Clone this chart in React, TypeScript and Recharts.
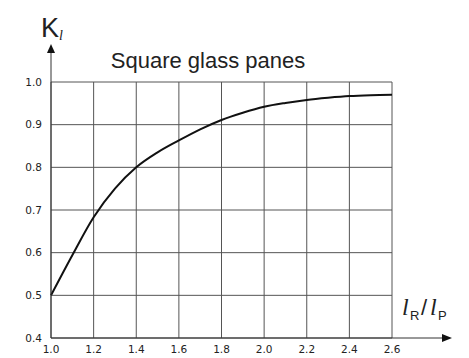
import { LineChart, Line, XAxis, YAxis, CartesianGrid } from 'recharts';

// pane side ratio lR / lP and the reduction factor K_l
const ratio = [1.0, 1.1, 1.2, 1.3, 1.4, 1.5, 1.6, 1.7, 1.8, 1.9, 2.0, 2.1, 2.2, 2.3, 2.4, 2.5, 2.6];
const kl = [0.5, 0.594, 0.683, 0.75, 0.8, 0.835, 0.863, 0.889, 0.911, 0.928, 0.942, 0.951, 0.958, 0.963, 0.967, 0.969, 0.97];

const xTicks = [1.0, 1.2, 1.4, 1.6, 1.8, 2.0, 2.2, 2.4, 2.6];
const yTicks = [0.4, 0.5, 0.6, 0.7, 0.8, 0.9, 1.0];

const data = ratio.map((r, i) => ({ r, k: kl[i] }));

const W = 469;
const H = 358;
const tickFont = { fontFamily: 'DejaVu Sans', fontSize: 10.5, fill: '#222' };

export default function App() {
  return (
    <div style={{ position: 'absolute', left: 0, top: 0, width: W, height: H, background: '#fff' }}>
      <LineChart width={W} height={H} data={data} margin={{ top: 82, right: 77, bottom: 0, left: 0 }}>
        <CartesianGrid stroke="#555" strokeWidth={1} />
        <XAxis
          dataKey="r"
          type="number"
          domain={[1.0, 2.6]}
          ticks={xTicks}
          tickFormatter={(v: number) => v.toFixed(1)}
          axisLine={false}
          tickLine={false}
          tickSize={0}
          tickMargin={8}
          height={20}
          tick={tickFont}
        />
        <YAxis
          type="number"
          domain={[0.4, 1.0]}
          ticks={yTicks}
          tickFormatter={(v: number) => v.toFixed(1)}
          axisLine={false}
          tickLine={false}
          tickSize={0}
          tickMargin={9}
          width={51}
          tick={tickFont}
        />
        <Line
          type="monotone"
          dataKey="k"
          stroke="#111"
          strokeWidth={2}
          dot={false}
          isAnimationActive={false}
        />
      </LineChart>
      {/* axis arrows and labels drawn over the chart */}
      <svg width={W} height={H} style={{ position: 'absolute', left: 0, top: 0, pointerEvents: 'none' }}>
        <line x1={51} y1={338} x2={51} y2={50} stroke="#333" strokeWidth={1} />
        <polygon points="51,44 47,53 55,53" fill="#111" />
        <line x1={51} y1={338} x2={444} y2={338} stroke="#333" strokeWidth={1} />
        <polygon points="452,338 442,334 442,342" fill="#111" />
        <text x={208} y={68} textAnchor="middle" fontFamily="Liberation Sans" fontSize={22} fill="#222">
          Square glass panes
        </text>
        <text x={41} y={37} fontFamily="Liberation Sans" fontSize={27} fill="#222">
          K
        </text>
        <text x={59} y={40} fontFamily="Liberation Serif" fontStyle="italic" fontSize={14} fill="#222">
          l
        </text>
        <text x={402} y={315} fontFamily="Liberation Serif" fontStyle="italic" fontSize={24} fill="#222">
          l
        </text>
        <text x={410} y={320} fontFamily="Liberation Sans" fontSize={13} fill="#222">
          R
        </text>
        <text x={421} y={315} fontFamily="Liberation Sans" fontSize={22} fill="#222">
          /
        </text>
        <text x={430} y={315} fontFamily="Liberation Serif" fontStyle="italic" fontSize={24} fill="#222">
          l
        </text>
        <text x={438} y={320} fontFamily="Liberation Sans" fontSize={13} fill="#222">
          P
        </text>
      </svg>
    </div>
  );
}
